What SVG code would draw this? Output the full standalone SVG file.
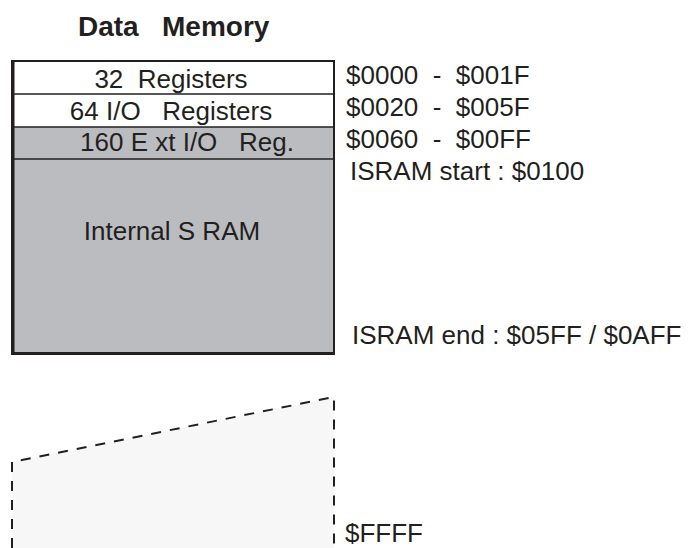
<svg xmlns="http://www.w3.org/2000/svg" width="690" height="548" viewBox="0 0 690 548">
<style>
text{font-family:"Liberation Sans",Arial,sans-serif;fill:#231f20;font-size:26px}
.c{text-anchor:middle}
.t{font-weight:bold;font-size:28px}
.div{stroke:#231f20;stroke-width:1.5}
.dash{fill:none;stroke:#231f20;stroke-width:2;stroke-dasharray:10 9}
</style>
<rect width="690" height="548" fill="#fff"/>
<text class="t" x="78" y="36" xml:space="preserve">Data   Memory</text>
<g id="memory">
<rect x="12" y="61" width="322" height="293" fill="#bbbcc0"/>
<rect x="12" y="61" width="322" height="66" fill="#fff"/>
</g>
<g id="reg32"><text class="c" x="171" y="88" xml:space="preserve">32  Registers</text></g>
<g id="reg64"><text class="c" x="171" y="120" xml:space="preserve">64 I/O   Registers</text></g>
<g id="ext160"><text class="c" x="187" y="151" xml:space="preserve">160 E xt I/O   Reg.</text></g>
<g id="sram"><text class="c" x="172" y="240">Internal S RAM</text></g>
<g id="borders">
<line class="div" x1="12" y1="94" x2="334" y2="94"/>
<line class="div" x1="12" y1="127" x2="334" y2="127"/>
<line class="div" x1="12" y1="159" x2="334" y2="159"/>
<rect x="12" y="61" width="322" height="293" fill="none" stroke="#231f20" stroke-width="2"/>
<line x1="13" y1="60" x2="13" y2="355" stroke="#231f20" stroke-width="3"/>
<line x1="11" y1="353.5" x2="335" y2="353.5" stroke="#231f20" stroke-width="3"/>
</g>
<g id="external">
<polygon points="12,462 334,397 334,548 12,548" fill="#f7f7f7"/>
<polyline class="dash" points="12,548 12,462 334,397 334,548"/>
</g>
<g id="addresses">
<text x="346" y="84" xml:space="preserve">$0000  -  $001F</text>
<text x="346" y="116" xml:space="preserve">$0020  -  $005F</text>
<text x="346" y="148" xml:space="preserve">$0060  -  $00FF</text>
<text x="350" y="180">ISRAM start : $0100</text>
<text x="352" y="344">ISRAM end : $05FF / $0AFF</text>
<text x="345" y="542">$FFFF</text>
</g>
</svg>
